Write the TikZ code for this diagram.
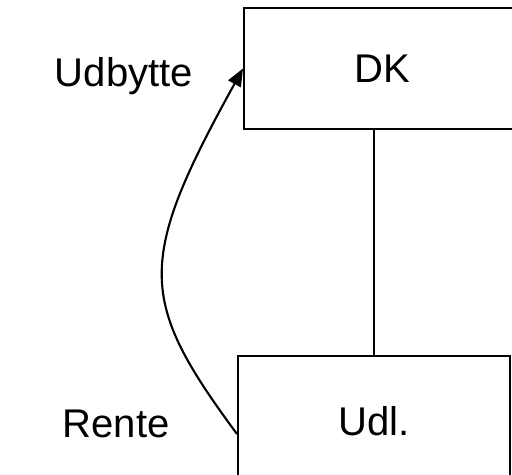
\documentclass[tikz,border=0pt]{standalone}
\usepackage{fontspec}
\setmainfont{Liberation Sans}
\usetikzlibrary{arrows.meta, positioning}

\begin{document}
\begin{tikzpicture}[
    x=0.02cm, y=-0.02cm,
    >=Triangle,
    font=\fontsize{22.8}{27}\selectfont,
    box/.style={rectangle, draw=black, line width=1.2pt, inner sep=0pt},
    arrow/.style={->, line width=1.2pt, >={Triangle[length=10pt, width=8pt]}},
    link/.style={line width=1.2pt},
    label_node/.style={anchor=base, inner sep=0pt}
]

% --- Canvas ---
\clip (0,0) rectangle (512,475);
\fill[white] (0,0) rectangle (512,475);

% --- Boxes ---
\node[box, minimum width=5.52cm, minimum height=2.42cm] (dk) at (382,68.5) {DK};
\node[box, minimum width=5.44cm, minimum height=2.6cm] (udl) at (374,421) {Udl.};

% --- Side Labels ---
\node[label_node] (label_udbytte) at (124,87) {Udbytte};
\node[label_node] (label_rente) at (116,438) {Rente};

% --- Connectors ---
\draw[link] (udl.north) -- (udl.north |- dk.south);
\coordinate (rente_out) at ([yshift=-0.26cm]udl.west);
\draw[arrow] (rente_out) .. controls (138,300) and (136,262) .. (dk.west);

\end{tikzpicture}
\end{document}
